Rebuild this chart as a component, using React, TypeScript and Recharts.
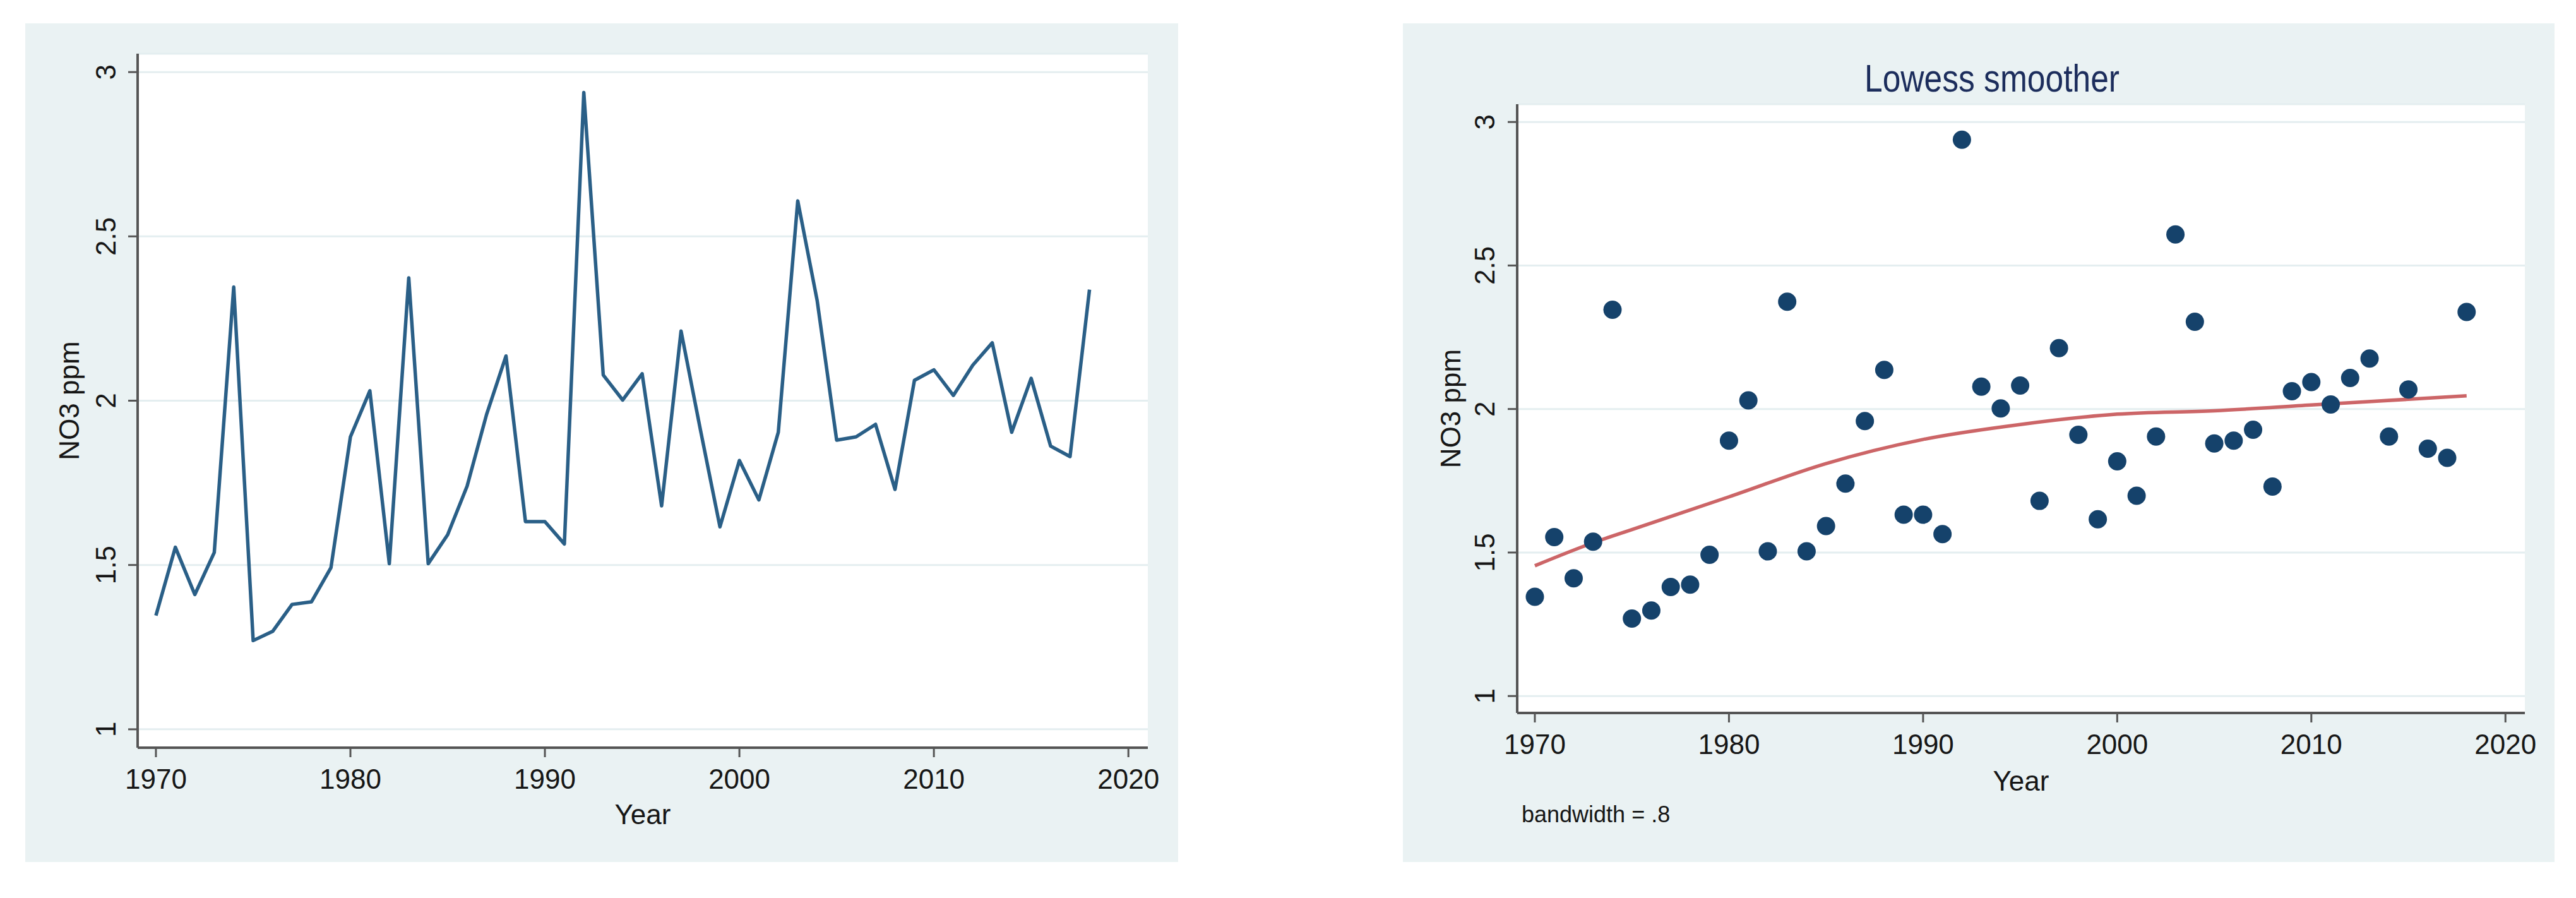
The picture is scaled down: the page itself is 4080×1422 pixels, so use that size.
import React from 'react';
import { LineChart, Line, ComposedChart, Scatter, XAxis, YAxis, CartesianGrid } from 'recharts';

const years = [
  1970, 1971, 1972, 1973, 1974, 1975, 1976, 1977, 1978, 1979,
  1980, 1981, 1982, 1983, 1984, 1985, 1986, 1987, 1988, 1989,
  1990, 1991, 1992, 1993, 1994, 1995, 1996, 1997, 1998, 1999,
  2000, 2001, 2002, 2003, 2004, 2005, 2006, 2007, 2008, 2009,
  2010, 2011, 2012, 2013, 2014, 2015, 2016, 2017, 2018,
];
const no3 = [
  1.346, 1.554, 1.41, 1.538, 2.346, 1.27, 1.298, 1.38, 1.388, 1.492,
  1.89, 2.03, 1.504, 2.374, 1.504, 1.592, 1.74, 1.958, 2.136, 1.632,
  1.632, 1.564, 2.938, 2.078, 2.002, 2.082, 1.68, 2.212, 1.91, 1.616,
  1.818, 1.698, 1.904, 2.608, 2.304, 1.88, 1.89, 1.928, 1.73, 2.062,
  2.094, 2.016, 2.108, 2.176, 1.904, 2.068, 1.862, 1.83, 2.338,
];
const lowessYears = [1970, 1973, 1975, 1980, 1985, 1990, 1995, 2000, 2005, 2010, 2015, 2018];
const lowessFit = [1.454, 1.534, 1.58, 1.694, 1.81, 1.894, 1.946, 1.982, 1.994, 2.014, 2.034, 2.046];

const xTicks = [1970, 1980, 1990, 2000, 2010, 2020];
const yTicks = [1, 1.5, 2, 2.5, 3];
const yTickLabels = ['1', '1.5', '2', '2.5', '3'];

const xTitle = 'Year';
const yTitle = 'NO3 ppm';
const chartTitle = 'Lowess smoother';
const note = 'bandwidth = .8';

const seriesData = years.map((y, i) => ({ year: y, no3: no3[i] }));
const lowessData = lowessYears.map((y, i) => ({ year: y, fit: lowessFit[i] }));

const FONT = "'Liberation Sans', Arial, Helvetica, sans-serif";
const BG = '#eaf2f3';
const AXIS = '#555555';
const NAVY = '#15426b';
const LINE_BLUE = '#2a5f87';
const TXT = '#161616';
const GRID = '#e4eef0';

const fmtY = (v: number) => {
  const i = yTicks.indexOf(v);
  return i >= 0 ? yTickLabels[i] : String(v);
};

const YTick = (props: any) => {
  const { x, y, payload } = props;
  return (
    <text x={x} y={y} transform={`rotate(-90 ${x} ${y})`} textAnchor="middle"
      fontSize={44} fontFamily={FONT} fill={TXT}>
      {fmtY(payload.value)}
    </text>
  );
};

const XTick = (props: any) => {
  const { x, y, payload } = props;
  return (
    <text x={x} y={y} textAnchor="middle" fontSize={44} fontFamily={FONT} fill={TXT}>
      {String(payload.value)}
    </text>
  );
};

const makeYTitle = (offset: number) => (props: any) => {
  const vb = props.viewBox || {};
  const px = vb.x + vb.width - offset;
  const py = vb.y + vb.height / 2;
  return (
    <text x={px} y={py} transform={`rotate(-90 ${px} ${py})`} textAnchor="middle"
      fontSize={44} fontFamily={FONT} fill={TXT}>
      {yTitle}
    </text>
  );
};

const makeXTitle = (offset: number) => (props: any) => {
  const vb = props.viewBox || {};
  const px = vb.x + vb.width / 2;
  const py = vb.y + offset;
  return (
    <text x={px} y={py} textAnchor="middle" fontSize={44} fontFamily={FONT} fill={TXT}>
      {xTitle}
    </text>
  );
};

const Dot = (p: any) => <circle cx={p.cx} cy={p.cy} r={14.5} fill={NAVY} />;

const axisCommon = {
  axisLine: { stroke: AXIS, strokeWidth: 4 },
  tickLine: { stroke: AXIS, strokeWidth: 3 },
  tickSize: 15,
};

export default function App() {
  return (
    <div style={{ position: 'absolute', left: 0, top: 0, width: 4080, height: 1422, background: '#ffffff' }}>
      {/* Left panel */}
      <div style={{ position: 'absolute', left: 40, top: 37, width: 1826, height: 1328, background: BG }}>
        <LineChart width={1826} height={1328} data={seriesData}
          margin={{ top: 48, right: 48, left: 78, bottom: 81 }}>
          <CartesianGrid vertical={false} horizontal stroke={GRID} strokeWidth={3} fill="#ffffff" />
          <XAxis dataKey="year" type="number" domain={[1969.06, 2021.0]} ticks={xTicks}
            allowDataOverflow height={100} tick={<XTick />} tickMargin={50}
            label={{ value: xTitle, content: makeXTitle(121) }} {...axisCommon} />
          <YAxis type="number" domain={[0.944, 3.056]} ticks={yTicks} allowDataOverflow
            width={100} tick={<YTick />} tickMargin={20}
            label={{ value: yTitle, content: makeYTitle(93) }} {...axisCommon} />
          <Line type="linear" dataKey="no3" stroke={LINE_BLUE} strokeWidth={5.5} dot={false}
            isAnimationActive={false} strokeLinejoin="round" />
        </LineChart>
      </div>

      {/* Right panel */}
      <div style={{ position: 'absolute', left: 2222, top: 37, width: 1824, height: 1328, background: BG }}>
        <ComposedChart width={1824} height={1328}
          margin={{ top: 128, right: 47, left: 81, bottom: 136 }}>
          <CartesianGrid vertical={false} horizontal stroke={GRID} strokeWidth={3} fill="#ffffff" />
          <XAxis dataKey="year" type="number" domain={[1969.09, 2021.0]} ticks={xTicks}
            allowDataOverflow height={100} tick={<XTick />} tickMargin={50}
            label={{ value: xTitle, content: makeXTitle(123) }} {...axisCommon} />
          <YAxis type="number" domain={[0.941, 3.062]} ticks={yTicks} allowDataOverflow
            width={100} tick={<YTick />} tickMargin={21}
            label={{ value: yTitle, content: makeYTitle(90) }} {...axisCommon} />
          <Scatter data={seriesData} dataKey="no3" shape={<Dot />} isAnimationActive={false} />
          <Line data={lowessData} type="monotone" dataKey="fit" stroke="#cc6567" strokeWidth={5.5}
            dot={false} isAnimationActive={false} />
        </ComposedChart>
      </div>

      {/* Title and note */}
      <svg width={4080} height={1422} style={{ position: 'absolute', left: 0, top: 0, pointerEvents: 'none' }}>
        <text x={3155} y={145} textAnchor="middle" fontSize={62} fontFamily={FONT} fill="#1c2d5c"
          textLength={404} lengthAdjust="spacingAndGlyphs">
          {chartTitle}
        </text>
        <text x={2410} y={1302} textAnchor="start" fontSize={36} fontFamily={FONT} fill={TXT}>
          {note}
        </text>
      </svg>
    </div>
  );
}
